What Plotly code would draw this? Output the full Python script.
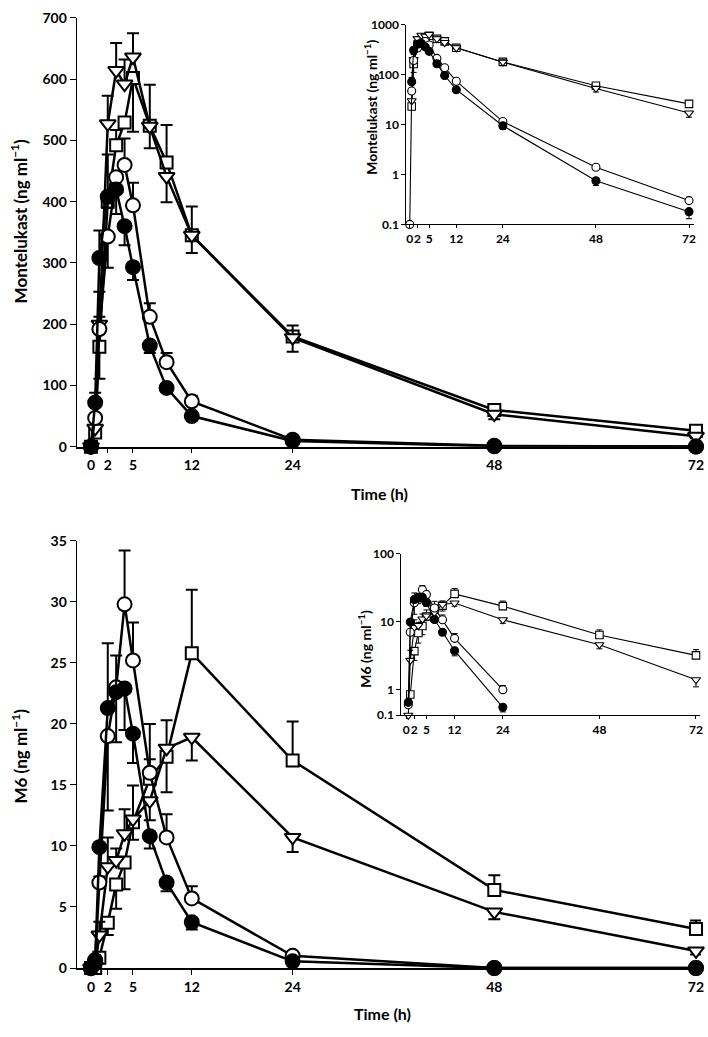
import math
import plotly.graph_objects as go

# ---------------- data ----------------
times = [0, 0.5, 1, 2, 3, 4, 5, 7, 9, 12, 24, 48, 72]
x_ticks = [0, 2, 5, 12, 24, 48, 72]

# Montelukast (ng/ml)
mont_filled = [0, 72, 308, 408, 420, 360, 293, 165, 96, 50, 9.5, 0.75, 0.18]
mont_open = [0, 47, 192, 343, 440, 460, 394, 212, 138, 74, 11.5, 1.4, 0.3]
mont_tri = [0, 30, 200, 527, 614, 592, 636, 523, 441, 345, 178, 53, 17]
mont_sq = [0, 23, 163, 400, 492, 529, 602, 524, 464, 345, 180, 60, 26]
mont_open_t0_log = 0.1  # open circle at t=0 drawn on the 0.1 floor of the log inset

mont_filled_up = [0, 16, 45, 0, 0, 0, 0, 0, 0, 0, 0, 0, 0]
mont_filled_dn = [0, 0, 0, 18, 40, 31, 21, 12, 6, 4, 1.5, 0.15, 0.05]
mont_open_up = [0, 0, 20, 0, 0, 43, 37, 22, 15, 9, 0, 0, 0.05]
mont_open_dn = [0, 0, 0, 51, 0, 0, 0, 0, 0, 0, 0, 0, 0]
mont_tri_up = [0, 0, 53, 46, 45, 40, 39, 68, 0, 47, 20, 0, 0]
mont_tri_dn = [0, 0, 0, 0, 0, 0, 0, 0, 42, 0, 0, 8, 3]
mont_sq_up = [0, 0, 0, 77, 25, 0, 0, 0, 61, 0, 0, 0, 0]
mont_sq_dn = [0, 0, 52, 0, 0, 0, 88, 37, 0, 29, 25, 0, 0]

# M6 (ng/ml)
m6_filled = [0, 0.65, 9.9, 21.3, 22.6, 22.9, 19.2, 10.8, 7.0, 3.75, 0.55, 0, 0]
m6_open = [0, 0.6, 7.0, 19.0, 23.0, 29.8, 25.2, 16.0, 10.7, 5.7, 1.0, 0, 0]
m6_tri = [0, 0.15, 2.7, 8.3, 8.8, 11.0, 12.2, 13.7, 18.0, 18.9, 10.7, 4.6, 1.4]
m6_sq = [0, 0, 0.85, 3.7, 6.85, 8.65, 11.95, 15.5, 17.3, 25.8, 17.0, 6.4, 3.2]

m6_filled_up = [0, 0, 0, 5.3, 3.0, 0, 0, 0, 0, 0, 0, 0, 0]
m6_filled_dn = [0, 0, 0, 0, 0, 3.4, 2.4, 1.0, 0.7, 0.6, 0.08, 0, 0]
m6_open_up = [0, 0, 0.5, 0, 0, 4.4, 3.1, 4.0, 1.9, 1.0, 0.15, 0, 0]
m6_open_dn = [0, 0, 0, 6.1, 4.5, 0, 0, 0, 0, 0, 0, 0, 0]
m6_tri_up = [0, 0, 1.1, 2.4, 1.0, 2.0, 0, 0, 2.3, 0, 0, 0, 0]
m6_tri_dn = [0, 0, 0, 0, 0, 0, 1.7, 1.6, 0, 1.9, 1.2, 0.6, 0.3]
m6_sq_up = [0, 0, 0, 0, 0, 0, 3.0, 1.6, 0, 5.2, 3.2, 1.2, 0.7]
m6_sq_dn = [0, 0, 0, 1.0, 2.0, 2.2, 0, 0, 2.9, 0, 0, 0, 0]

# log-inset tick labels (the M6 inset's lowest tick, labelled "0.1", sits at the axis floor)
mont_log_ticks = [0.1, 1, 10, 100, 1000]
mont_log_labels = ["0.1", "1", "10", "100", "1000"]
m6_log_floor = 0.42
m6_log_ticks = [m6_log_floor, 1, 10, 100]
m6_log_labels = ["0.1", "1", "10", "100"]

# ---------------- styling ----------------
W, H = 708, 1037
FONT = "Lato"
BLACK = "#000000"

def px_x(p):
    return p / W

def px_y(p):
    return 1 - p / H

STYLES = {
    "filled": dict(symbol="circle", color=BLACK),
    "open": dict(symbol="circle", color="white"),
    "tri": dict(symbol="triangle-down", color="white"),
    "sq": dict(symbol="square", color="white"),
}

fig = go.Figure()


def add_series(kind, y, up, dn, xa, ya, main, log=False, floor=None, first_override=None):
    st = STYLES[kind]
    yy = list(y)
    if log:
        yy = [v if v > 0 else None for v in yy]
        if floor is not None:
            yy = [max(v, floor) if v is not None else None for v in yy]
        if first_override is not None:
            yy[0] = first_override
    size = {"filled": 14, "open": 14, "tri": 14, "sq": 12}[kind] if main else \
        {"filled": 8, "open": 8, "tri": 8, "sq": 7.5}[kind]
    fig.add_trace(go.Scatter(
        x=times, y=yy, xaxis=xa, yaxis=ya, mode="lines+markers",
        line=dict(color=BLACK, width=2.5 if main else 1.1),
        marker=dict(symbol=st["symbol"], color=st["color"], size=size,
                    line=dict(color=BLACK, width=2 if main else 1.1)),
        error_y=dict(type="data", symmetric=False, array=up, arrayminus=dn,
                     color=BLACK, thickness=2 if main else 1,
                     width=6 if main else 3),
        cliponaxis=False, showlegend=False, connectgaps=False, hoverinfo="skip",
    ))


for kind, y, up, dn in [
    ("sq", mont_sq, mont_sq_up, mont_sq_dn),
    ("tri", mont_tri, mont_tri_up, mont_tri_dn),
    ("open", mont_open, mont_open_up, mont_open_dn),
    ("filled", mont_filled, mont_filled_up, mont_filled_dn),
]:
    add_series(kind, y, up, dn, "x", "y", True)
    add_series(kind, y, up, dn, "x2", "y2", False, log=True,
               first_override=mont_open_t0_log if kind == "open" else None)

for kind, y, up, dn in [
    ("sq", m6_sq, m6_sq_up, m6_sq_dn),
    ("tri", m6_tri, m6_tri_up, m6_tri_dn),
    ("open", m6_open, m6_open_up, m6_open_dn),
    ("filled", m6_filled, m6_filled_up, m6_filled_dn),
]:
    add_series(kind, y, up, dn, "x3", "y3", True)
    add_series(kind, y, up, dn, "x4", "y4", False, log=True, floor=m6_log_floor)

main_tickfont = dict(family=FONT, size=14, color=BLACK)
inset_tickfont = dict(family=FONT, size=12, color=BLACK)

common_axis = dict(showgrid=False, zeroline=False, showline=True, linecolor=BLACK,
                   ticks="outside", tickcolor=BLACK, tickangle=0)

def xaxis(domain, rng, anchor, main):
    return dict(common_axis, domain=domain, range=rng, anchor=anchor,
                tickmode="array", tickvals=x_ticks,
                ticktext=[f"<b>{t}</b>" for t in x_ticks],
                linewidth=1.5 if main else 1, ticklen=5 if main else 3,
                tickfont=main_tickfont if main else inset_tickfont)

def yaxis(domain, rng, anchor, main, vals, labels, log=False):
    d = dict(common_axis, domain=domain, range=rng, anchor=anchor,
             tickmode="array", tickvals=vals,
             ticktext=[f"<b>{t}</b>" for t in labels],
             linewidth=1, ticklen=6 if main else 4,
             tickfont=main_tickfont if main else inset_tickfont)
    if log:
        d["type"] = "log"
    return d

main_y1 = list(range(0, 701, 100))
main_y3 = list(range(0, 36, 5))

fig.update_layout(
    width=W, height=H, margin=dict(l=0, r=0, t=0, b=0),
    paper_bgcolor="white", plot_bgcolor="white", hovermode=False,
    xaxis=xaxis([px_x(77), px_x(704)], [-1.7, 72.6], "y", True),
    yaxis=yaxis([px_y(445), px_y(9)], [0, 700], "x", True, main_y1, [str(v) for v in main_y1]),
    xaxis2=xaxis([px_x(408), px_x(697)], [-0.9, 73.3], "y2", False),
    yaxis2=yaxis([px_y(219), px_y(16)], [-1, 3], "x2", False, mont_log_ticks, mont_log_labels, log=True),
    xaxis3=xaxis([px_x(77), px_x(704)], [-1.7, 72.6], "y3", True),
    yaxis3=yaxis([px_y(975), px_y(540.7)], [0, 35], "x3", True, main_y3, [str(v) for v in main_y3]),
    xaxis4=xaxis([px_x(403), px_x(703)], [-1.24, 73.0], "y4", False),
    yaxis4=yaxis([px_y(718), px_y(554)], [math.log10(m6_log_floor), 2], "x4", False,
                 m6_log_ticks, m6_log_labels, log=True),
)

title_font = dict(family=FONT, size=17, color=BLACK)
inset_title_font = dict(family=FONT, size=14, color=BLACK)
time_font = dict(family=FONT, size=16, color=BLACK)
annos = [
    dict(text="<b>Montelukast (ng ml<sup>−1</sup>)</b>", x=px_x(19), y=px_y(216), textangle=-90, font=title_font),
    dict(text="<b>M6 (ng ml<sup>−1</sup>)</b>", x=px_x(20), y=px_y(759), textangle=-90, font=title_font),
    dict(text="<b>Montelukast (ng ml<sup>−1</sup>)</b>", x=px_x(372), y=px_y(100), textangle=-90, font=inset_title_font),
    dict(text="<b>M6 (ng ml<sup>−1</sup>)</b>", x=px_x(366), y=px_y(650), textangle=-90, font=inset_title_font),
    dict(text="<b>Time (h)</b>", x=px_x(381), y=px_y(493), font=time_font),
    dict(text="<b>Time (h)</b>", x=px_x(384), y=px_y(1021), font=time_font),
]
for a in annos:
    fig.add_annotation(xref="paper", yref="paper", showarrow=False,
                       xanchor="center", yanchor="middle", **a)

fig.write_html(
    "out.html",
    config={"displayModeBar": False},
    post_script="document.body.style.margin='0';document.body.style.overflow='hidden';",
)
